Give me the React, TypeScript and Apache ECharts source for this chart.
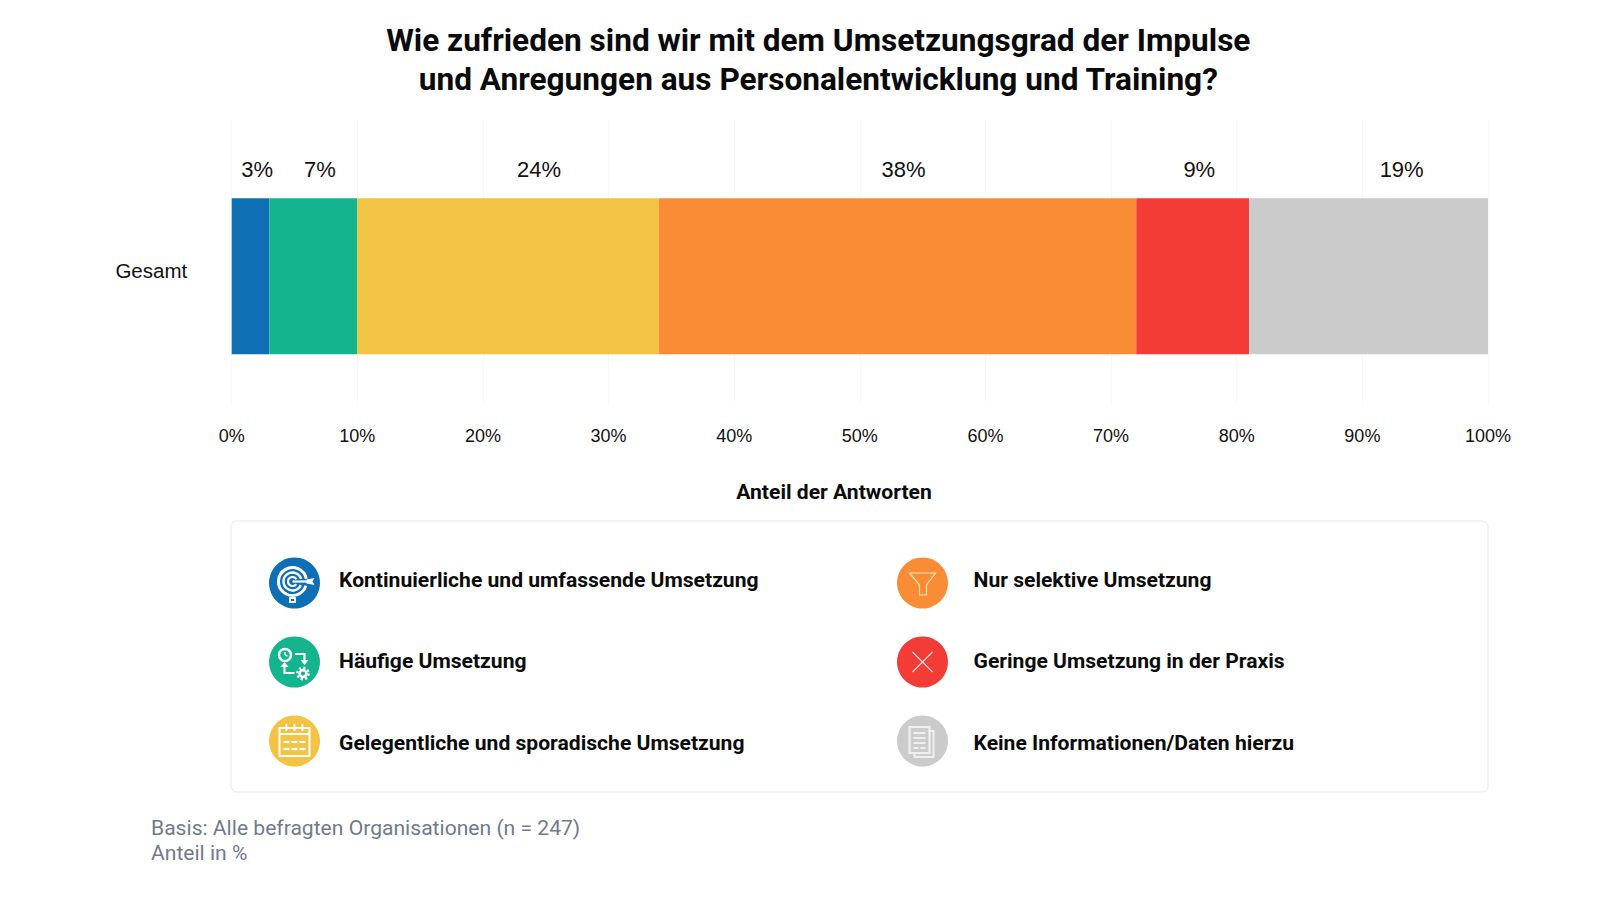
import React, { useEffect, useRef } from "react";
import * as echarts from "echarts";

const FONT = "Roboto";
const NUM_FONT = "Liberation Sans";
const titleLines = [
  "Wie zufrieden sind wir mit dem Umsetzungsgrad der Impulse",
  "und Anregungen aus Personalentwicklung und Training?",
];
const categories = ["Gesamt"];
const seriesNames = [
  "Kontinuierliche und umfassende Umsetzung",
  "Häufige Umsetzung",
  "Gelegentliche und sporadische Umsetzung",
  "Nur selektive Umsetzung",
  "Geringe Umsetzung in der Praxis",
  "Keine Informationen/Daten hierzu",
];
const seriesValues = [3, 7, 24, 38, 9, 19];
const seriesColors = ["#0f6fb5", "#14b48e", "#f3c344", "#fa8c36", "#f43c36", "#cbcbcb"];
const labelShift = [6.5, 6.5, 31, 6, 6.5, 33];
const axisTitle = "Anteil der Antworten";
const footnotes = ["Basis: Alle befragten Organisationen (n = 247)", "Anteil in %"];

const W = "#ffffff";
const line = (x1: number, y1: number, x2: number, y2: number, stroke = W, lineWidth = 2.2) => ({
  type: "line",
  shape: { x1, y1, x2, y2 },
  style: { stroke, lineWidth, fill: "none" },
});
const poly = (points: number[][], stroke = W, lineWidth = 2.2) => ({
  type: "polyline",
  shape: { points },
  style: { stroke, lineWidth, fill: "none" },
});
const ring = (cx: number, cy: number, r: number, lineWidth = 2.4, stroke = W) => ({
  type: "circle",
  shape: { cx, cy, r },
  style: { stroke, lineWidth, fill: "none" },
});
const arc = (cx: number, cy: number, r: number, a: number, b: number, lineWidth = 2.4) => ({
  type: "arc",
  shape: { cx, cy, r, startAngle: a, endAngle: b },
  style: { stroke: W, lineWidth, fill: "none" },
});
const tri = (points: number[][]) => ({ type: "polygon", shape: { points }, style: { fill: W } });
const box = (x: number, y: number, width: number, height: number, stroke = W, lineWidth = 2.2, fill = "none") => ({
  type: "rect",
  shape: { x, y, width, height },
  style: { stroke, lineWidth, fill },
});

const iconTarget = (cx: number, cy: number) => [
  arc(cx - 2, cy - 1.5, 14, 0.3, -0.2, 3),
  arc(cx - 2, cy - 1.5, 9, 0.4, -0.3, 2.4),
  arc(cx - 2, cy - 1.5, 4.5, 0.6, -0.5, 2.2),
  line(cx - 2, cy - 1.5, cx + 14, cy - 1.5, W, 2.2),
  tri([[cx + 12, cy - 3.5], [cx + 20, cy - 5], [cx + 18, cy - 1.5], [cx + 20, cy + 2], [cx + 12, cy + 0.5]]),
  box(cx - 4.5, cy + 15, 5, 4, W, 1.8),
];
const iconProcess = (cx: number, cy: number) => [
  ring(cx - 9.5, cy - 7, 6, 2.4),
  line(cx - 9.5, cy - 10, cx - 9.5, cy - 7, W, 1.4),
  line(cx - 9.5, cy - 7, cx - 7, cy - 6, W, 1.4),
  poly([[cx + 0.5, cy - 8], [cx + 10, cy - 8], [cx + 10, cy - 1]]),
  tri([[cx + 6, cy - 2], [cx + 14, cy - 2], [cx + 10, cy + 3]]),
  poly([[cx + 0, cy + 11], [cx - 10, cy + 11], [cx - 10, cy + 4]]),
  tri([[cx - 14, cy + 5], [cx - 6, cy + 5], [cx - 10, cy]]),
  ring(cx + 8.5, cy + 11.5, 3.4, 2.6),
  {
    type: "circle",
    shape: { cx: cx + 8.5, cy: cy + 11.5, r: 5.6 },
    style: { stroke: W, lineWidth: 2.6, fill: "none", lineDash: [2.2, 2.2] },
  },
];
const iconCalendar = (cx: number, cy: number) => [
  box(cx - 15, cy - 13, 30, 28, W, 2),
  line(cx - 15, cy - 7, cx + 15, cy - 7, W, 2),
  line(cx - 8, cy - 17, cx - 8, cy - 10, W, 1.8),
  line(cx, cy - 17, cx, cy - 10, W, 1.8),
  line(cx + 8, cy - 17, cx + 8, cy - 10, W, 1.8),
  line(cx - 11, cy + 1, cx - 5, cy + 1),
  line(cx - 3, cy + 1, cx + 3, cy + 1),
  line(cx + 5, cy + 1, cx + 11, cy + 1),
  line(cx - 11, cy + 8, cx - 5, cy + 8),
  line(cx - 3, cy + 8, cx + 3, cy + 8),
  line(cx + 5, cy + 8, cx + 11, cy + 8),
];
const iconFunnel = (cx: number, cy: number) => [
  {
    type: "polygon",
    shape: {
      points: [[cx - 13, cy - 10], [cx + 13, cy - 10], [cx + 4, cy + 2], [cx + 4, cy + 12], [cx - 3, cy + 12], [cx - 3, cy + 2]],
    },
    style: { stroke: "#ffe3b5", lineWidth: 1.2, fill: "none" },
  },
];
const iconCross = (cx: number, cy: number) => [
  line(cx - 10, cy - 10, cx + 10, cy + 10, "#ffdede", 1.1),
  line(cx + 10, cy - 10, cx - 10, cy + 10, "#ffdede", 1.1),
];
const iconDoc = (cx: number, cy: number) => {
  const c = "#f0f0f0";
  return [
    poly([[cx + 7, cy - 10], [cx + 11, cy - 10], [cx + 11, cy + 16], [cx - 8, cy + 16], [cx - 8, cy + 12]], c, 2),
    box(cx - 13, cy - 14, 20, 26, c, 2.2),
    line(cx - 9, cy - 8, cx + 3, cy - 8, c, 2),
    line(cx - 9, cy - 3, cx + 3, cy - 3, c, 2),
    line(cx - 9, cy + 2, cx + 3, cy + 2, c, 2),
    line(cx - 9, cy + 7, cx - 4, cy + 7, c, 2),
    line(cx - 2, cy + 7, cx + 3, cy + 7, c, 2),
  ];
};
const icons = [iconTarget, iconProcess, iconCalendar, iconFunnel, iconCross, iconDoc];

const iconSlots = [
  [294.5, 583], [294.5, 662], [294.5, 741],
  [922.5, 583], [922.5, 662], [922.5, 741],
];
const textSlots = [
  [339, 579.2], [339, 660], [339, 742.5],
  [973.5, 579.2], [973.5, 660], [973.5, 742.5],
];

export default function App() {
  const ref = useRef<HTMLDivElement>(null);
  useEffect(() => {
    document.body.style.margin = "0";
    const chart = echarts.init(ref.current!, null, { renderer: "svg" });
    const legendGraphics: any[] = [];
    seriesNames.forEach((name, i) => {
      const [cx, cy] = iconSlots[i];
      legendGraphics.push({
        type: "circle",
        shape: { cx, cy, r: 25.5 },
        style: { fill: seriesColors[i] },
      });
      icons[i](cx, cy).forEach((g: any) => legendGraphics.push(g));
      const [tx, ty] = textSlots[i];
      legendGraphics.push({
        type: "text",
        x: tx,
        y: ty,
        style: {
          text: name,
          fill: "#0b0b0b",
          font: `700 21.1px ${FONT}`,
          textAlign: "left",
          textVerticalAlign: "middle",
        },
      });
    });

    chart.setOption({
      animation: false,
      backgroundColor: "#ffffff",
      textStyle: { fontFamily: FONT },
      title: {
        text: titleLines.join("\n"),
        left: 813.3,
        top: 16.5,
        textAlign: "center",
        textStyle: { fontFamily: FONT, fontWeight: 700, fontSize: 31.6, lineHeight: 38.5, color: "#0a0a0a" },
      },
      grid: [
        { left: 231.7, width: 1256.3, top: 120, height: 283 },
        { left: 231.7, width: 1256.3, top: 198.3, height: 156 },
      ],
      xAxis: [
        {
          type: "value",
          gridIndex: 0,
          min: 0,
          max: 100,
          interval: 10,
          axisLine: { show: false },
          axisTick: { show: false },
          splitLine: { show: true, lineStyle: { color: "#f7f7f7", width: 1 } },
          axisLabel: {
            formatter: "{value}%",
            fontFamily: NUM_FONT,
            fontSize: 18,
            color: "#111111",
            margin: 24,
            showMinLabel: true,
            showMaxLabel: true,
          },
        },
        {
          type: "value",
          gridIndex: 1,
          min: 0,
          max: 100,
          show: false,
        },
      ],
      yAxis: [
        { type: "category", gridIndex: 0, data: categories, show: false },
        {
          type: "category",
          gridIndex: 1,
          data: categories,
          axisLine: { show: false },
          axisTick: { show: false },
          axisLabel: {
            fontFamily: NUM_FONT,
            fontSize: 20.5,
            color: "#111111",
            margin: 44.5,
            verticalAlign: "bottom",
            lineHeight: 11,
          },
        },
      ],
      series: seriesNames.map((name, i) => ({
        name,
        type: "bar",
        stack: "total",
        xAxisIndex: 1,
        yAxisIndex: 1,
        barWidth: "100%",
        data: [seriesValues[i]],
        itemStyle: { color: seriesColors[i] },
        label: {
          show: true,
          position: "top",
          distance: 18,
          offset: [labelShift[i], 0],
          formatter: "{c}%",
          fontFamily: NUM_FONT,
          fontSize: 22,
          color: "#111111",
        },
      })),
      graphic: [
        {
          type: "text",
          x: 834,
          y: 491.2,
          style: {
            text: axisTitle,
            fill: "#0b0b0b",
            font: `700 21.1px ${FONT}`,
            textAlign: "center",
            textVerticalAlign: "middle",
          },
        },
        {
          type: "rect",
          shape: { x: 231, y: 521, width: 1257, height: 271, r: 6 },
          style: { fill: "#ffffff", stroke: "#f0f0f0", lineWidth: 1.5 },
        },
        ...legendGraphics,
        ...footnotes.map((text, i) => ({
          type: "text",
          x: 151,
          y: 827.5 + i * 25,
          style: {
            text,
            fill: "#707a8e",
            font: `400 21.1px ${FONT}`,
            textAlign: "left",
            textVerticalAlign: "middle",
          },
        })),
      ],
    });
    return () => chart.dispose();
  }, []);
  return <div ref={ref} style={{ width: 1600, height: 900 }} />;
}
